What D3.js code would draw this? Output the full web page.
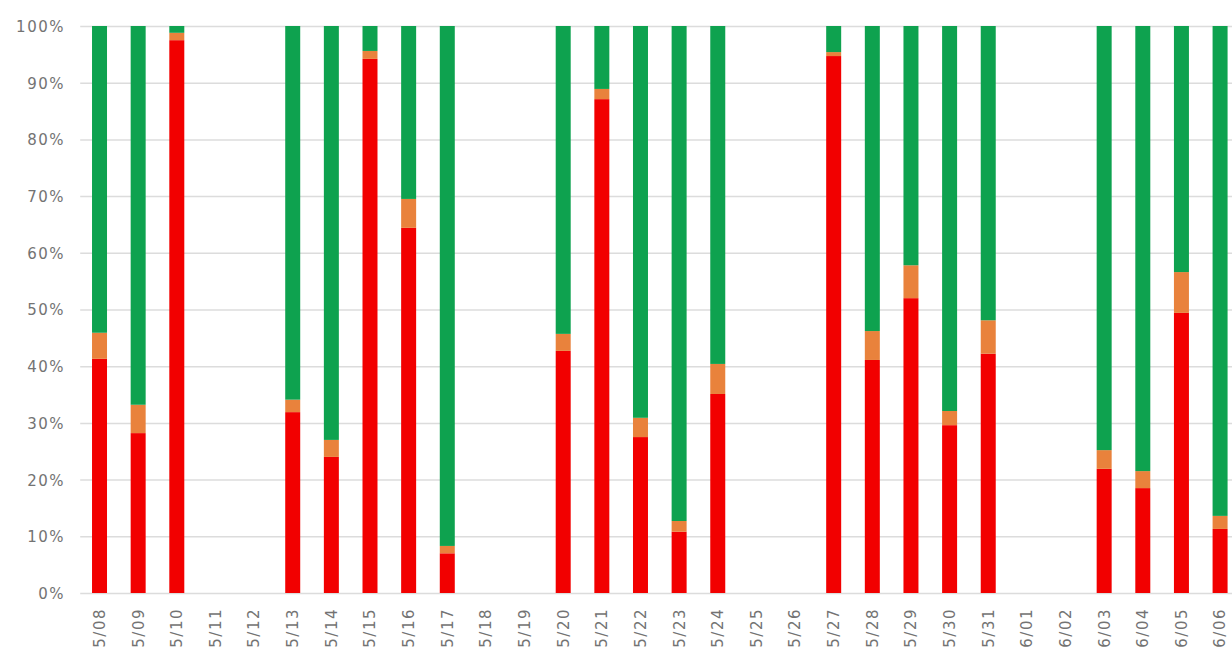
<!DOCTYPE html>
<html><head><meta charset="utf-8">
<script src="https://cdn.jsdelivr.net/npm/d3@7"></script>
<style>
html,body{margin:0;padding:0;background:#fff;overflow:hidden;}
svg{display:block;}
text{font-family:"DejaVu Sans","Liberation Sans",sans-serif;}
</style></head>
<body><svg id="c" width="1232" height="662"></svg>
<script>
const categories = ["5/08","5/09","5/10","5/11","5/12","5/13","5/14","5/15","5/16","5/17","5/18","5/19","5/20","5/21","5/22","5/23","5/24","5/25","5/26","5/27","5/28","5/29","5/30","5/31","6/01","6/02","6/03","6/04","6/05","6/06"];
// percent shares; null = no data
const redValues    = [41.3,28.2,97.5,null,null,31.9,24.0,94.2,64.4,7.0,null,null,42.7,87.1,27.5,10.8,35.1,null,null,94.7,41.1,52.0,29.6,42.2,null,null,21.9,18.5,49.4,11.3];
const orangeValues = [4.6,5.0,1.3,null,null,2.2,3.0,1.4,5.1,1.3,null,null,3.0,1.8,3.4,1.9,5.3,null,null,0.7,5.1,5.8,2.5,5.9,null,null,3.3,3.0,7.2,2.3];
const yTicks = [0,10,20,30,40,50,60,70,80,90,100];

const colors = {red:"#f20000", orange:"#e9823c", green:"#0ea24f"};
const svg = d3.select("#c");
const plotLeft = 80.2, plotRight = 1239.4, plotTop = 26, plotBottom = 593;

const x = d3.scaleBand().domain(categories).range([plotLeft, plotRight]).paddingInner(0.612).paddingOuter(0.306);
const y = d3.scaleLinear().domain([0,100]).range([plotBottom, plotTop]);

// gridlines
svg.append("g").selectAll("line").data(yTicks).join("line")
  .attr("x1", plotLeft).attr("x2", 1232)
  .attr("y1", d=>y(d)+0.5).attr("y2", d=>y(d)+0.5)
  .attr("stroke", "#dcdcdc").attr("stroke-width", 1.5);

// y axis labels
const yAxis = d3.axisLeft(y).tickValues(yTicks).tickFormat(d=>d+"%").tickSize(0).tickPadding(0);
const ya = svg.append("g").attr("transform", "translate(65,0)").call(yAxis);
ya.select(".domain").remove();
ya.selectAll("text").attr("fill","#737373").style("font-size","15px").style("letter-spacing","1.5px").attr("dy","0.36em");

// bars
const rows = categories.map((c,i)=>({c, r:redValues[i], o:orangeValues[i]})).filter(d=>d.r!==null);
const g = svg.append("g");
rows.forEach(d=>{
  const segs = [
    {y0:0, y1:d.r, col:colors.red},
    {y0:d.r, y1:d.r+d.o, col:colors.orange},
    {y0:d.r+d.o, y1:100, col:colors.green}
  ];
  g.append("g").selectAll("rect").data(segs).join("rect")
    .attr("x", x(d.c)).attr("width", x.bandwidth())
    .attr("y", s=>y(s.y1)).attr("height", s=>y(s.y0)-y(s.y1))
    .attr("fill", s=>s.col);
});

// x axis labels
const xAxis = d3.axisBottom(x).tickSize(0).tickPadding(0);
const xa = svg.append("g").attr("transform", `translate(0,${plotBottom})`).call(xAxis);
xa.select(".domain").remove();
xa.selectAll("text")
  .attr("fill","#737373").style("font-size","15px").style("letter-spacing","1.5px")
  .attr("transform","rotate(-90)")
  .attr("x",-15).attr("y",0).attr("dy","0.36em")
  .attr("text-anchor","end");
</script></body></html>
